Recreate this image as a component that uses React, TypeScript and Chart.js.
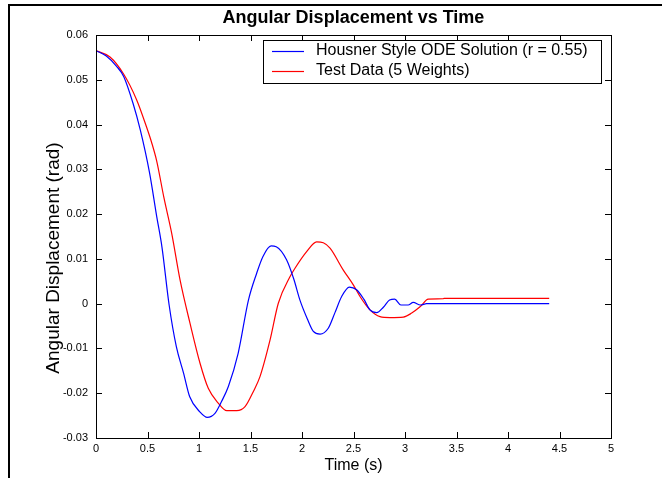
import React, { useEffect, useRef } from "react";
import { Chart, registerables } from "chart.js";

Chart.register(...registerables);

const chartTitle = "Angular Displacement vs Time";
const xAxisTitle = "Time (s)";
const yAxisTitle = "Angular Displacement (rad)";
const seriesLabels = ["Housner Style ODE Solution (r = 0.55)", "Test Data (5 Weights)"];
const seriesColors = ["#0000ff", "#ff0000"];

const blueTime = [0, 0.1, 0.2, 0.27, 0.36, 0.43, 0.52, 0.59, 0.64, 0.71, 0.78, 0.85, 0.91, 1.01, 1.08, 1.155, 1.22, 1.285, 1.38, 1.48, 1.56, 1.62, 1.7, 1.75, 1.85, 1.92, 1.98, 2.05, 2.11, 2.175, 2.255, 2.32, 2.385, 2.46, 2.53, 2.6, 2.66, 2.725, 2.79, 2.85, 2.9, 2.96, 3.03, 3.08, 3.15, 3.21, 4.4];
const blueValue = [0.0565, 0.0553, 0.053, 0.0507, 0.0447, 0.0388, 0.0292, 0.0194, 0.0127, -0.0003, -0.0096, -0.0155, -0.0208, -0.0242, -0.0254, -0.0245, -0.0218, -0.0185, -0.0111, 0.0008, 0.0068, 0.0105, 0.0129, 0.0127, 0.0098, 0.0055, 0.0008, -0.0033, -0.0062, -0.0068, -0.0055, -0.002, 0.0016, 0.0037, 0.0031, 0.001, -0.0014, -0.002, -0.0008, 0.0008, 0.001, -0.0003, -0.0003, 0.0003, -0.0003, 0, 0];

const redTime = [0, 0.136, 0.265, 0.395, 0.49, 0.54, 0.59, 0.66, 0.735, 0.816, 0.913, 1.01, 1.09, 1.187, 1.27, 1.366, 1.447, 1.528, 1.592, 1.69, 1.77, 1.883, 1.932, 2.045, 2.142, 2.207, 2.272, 2.401, 2.498, 2.563, 2.66, 2.757, 2.854, 2.984, 3.065, 3.146, 3.226, 3.37, 3.38, 4.4];
const redValue = [0.0565, 0.0551, 0.0514, 0.0455, 0.0395, 0.036, 0.0318, 0.0236, 0.0157, 0.0053, -0.0044, -0.0133, -0.0189, -0.0222, -0.0239, -0.0239, -0.023, -0.0196, -0.0163, -0.0081, 0.0001, 0.006, 0.0079, 0.0116, 0.0138, 0.0136, 0.0124, 0.0075, 0.0042, 0.0016, -0.0014, -0.0029, -0.0031, -0.003, -0.0021, -0.0007, 0.001, 0.0011, 0.0012, 0.0012];

const xTicks = [0, 0.5, 1, 1.5, 2, 2.5, 3, 3.5, 4, 4.5, 5];
const xTickLabels = ["0", "0.5", "1", "1.5", "2", "2.5", "3", "3.5", "4", "4.5", "5"];
const yTicks = [-0.03, -0.02, -0.01, 0, 0.01, 0.02, 0.03, 0.04, 0.05, 0.06];
const yTickLabels = ["-0.03", "-0.02", "-0.01", "0", "0.01", "0.02", "0.03", "0.04", "0.05", "0.06"];

const FONT = "'Liberation Sans', Arial, Helvetica, sans-serif";

function labelFor(ticks: number[], labels: string[], v: number) {
  const i = ticks.findIndex((t) => Math.abs(t - v) < 1e-9);
  return i >= 0 ? labels[i] : "";
}

const decorPlugin = {
  id: "decor",
  beforeDraw(chart: any) {
    const ctx = chart.ctx;
    ctx.save();
    ctx.fillStyle = "#ffffff";
    ctx.fillRect(0, 0, chart.width, chart.height);
    ctx.strokeStyle = "#000000";
    ctx.lineWidth = 2;
    ctx.beginPath();
    ctx.moveTo(9, chart.height);
    ctx.lineTo(9, 5);
    ctx.lineTo(chart.width, 5);
    ctx.stroke();
    ctx.restore();
  },
  afterDatasetsDraw(chart: any) {
    const ctx = chart.ctx;
    const a = chart.chartArea;
    const xs = chart.scales.x;
    const ys = chart.scales.y;
    ctx.save();
    ctx.strokeStyle = "#000000";
    ctx.lineWidth = 1;
    ctx.strokeRect(Math.round(a.left) + 0.5, Math.round(a.top) + 0.5, Math.round(a.right - a.left), Math.round(a.bottom - a.top));
    const tl = 6;
    ctx.beginPath();
    xTicks.forEach((v) => {
      const px = Math.round(xs.getPixelForValue(v)) + 0.5;
      ctx.moveTo(px, a.bottom);
      ctx.lineTo(px, a.bottom - tl);
      ctx.moveTo(px, a.top);
      ctx.lineTo(px, a.top + tl);
    });
    yTicks.forEach((v) => {
      const py = Math.round(ys.getPixelForValue(v)) + 0.5;
      ctx.moveTo(a.left, py);
      ctx.lineTo(a.left + tl, py);
      ctx.moveTo(a.right, py);
      ctx.lineTo(a.right - tl, py);
    });
    ctx.stroke();

    ctx.fillStyle = "#000000";
    ctx.textAlign = "center";
    ctx.textBaseline = "middle";
    ctx.font = `bold 18px ${FONT}`;
    ctx.fillText(chartTitle, (a.left + a.right) / 2, 18);
    ctx.font = `16px ${FONT}`;
    ctx.fillText(xAxisTitle, (a.left + a.right) / 2, 466);
    ctx.save();
    ctx.translate(54, 258);
    ctx.rotate(-Math.PI / 2);
    ctx.font = `19px ${FONT}`;
    ctx.fillText(yAxisTitle, 0, 0);
    ctx.restore();

    const lx = 263, ly = 40, lw = 338, lh = 43;
    ctx.fillStyle = "#ffffff";
    ctx.fillRect(lx, ly, lw, lh);
    ctx.strokeStyle = "#000000";
    ctx.lineWidth = 1;
    ctx.strokeRect(lx + 0.5, ly + 0.5, lw, lh);
    const rows = [51, 71];
    seriesLabels.forEach((label, i) => {
      const y = rows[i];
      ctx.strokeStyle = seriesColors[i];
      ctx.lineWidth = 1.2;
      ctx.beginPath();
      ctx.moveTo(272, y + 0.5);
      ctx.lineTo(304, y + 0.5);
      ctx.stroke();
      ctx.fillStyle = "#000000";
      ctx.textAlign = "left";
      ctx.textBaseline = "middle";
      ctx.font = `16px ${FONT}`;
      ctx.fillText(label, 316, y);
    });
    ctx.restore();
  },
};

export default function App() {
  const ref = useRef<HTMLCanvasElement | null>(null);
  useEffect(() => {
    if (!ref.current) return;
    const chart = new Chart(ref.current, {
      type: "line",
      data: {
        datasets: [
          {
            label: seriesLabels[0],
            data: blueTime.map((t, i) => ({ x: t, y: blueValue[i] })),
            borderColor: seriesColors[0],
            borderWidth: 1.2,
            pointRadius: 0,
            cubicInterpolationMode: "monotone",
            fill: false,
          },
          {
            label: seriesLabels[1],
            data: redTime.map((t, i) => ({ x: t, y: redValue[i] })),
            borderColor: seriesColors[1],
            borderWidth: 1.2,
            pointRadius: 0,
            cubicInterpolationMode: "monotone",
            fill: false,
          },
        ],
      },
      options: {
        responsive: false,
        animation: false,
        devicePixelRatio: 1,
        layout: { padding: { left: 0, right: 51, top: 35, bottom: 0 } },
        plugins: { legend: { display: false }, title: { display: false }, tooltip: { enabled: false } },
        scales: {
          x: {
            type: "linear",
            min: 0,
            max: 5,
            grid: { display: false, drawTicks: false },
            border: { display: false },
            afterBuildTicks: (s: any) => {
              s.ticks = xTicks.map((v) => ({ value: v }));
            },
            afterFit: (s: any) => {
              s.height = 40;
            },
            ticks: {
              autoSkip: false,
              maxRotation: 0,
              padding: 4,
              color: "#000000",
              font: { family: FONT, size: 11 },
              callback: (v: any) => labelFor(xTicks, xTickLabels, Number(v)),
            },
          },
          y: {
            type: "linear",
            min: -0.03,
            max: 0.06,
            grid: { display: false, drawTicks: false },
            border: { display: false },
            afterBuildTicks: (s: any) => {
              s.ticks = yTicks.map((v) => ({ value: v }));
            },
            afterFit: (s: any) => {
              s.width = 96;
            },
            ticks: {
              autoSkip: false,
              padding: 8,
              color: "#000000",
              font: { family: FONT, size: 11 },
              callback: (v: any) => labelFor(yTicks, yTickLabels, Number(v)),
            },
          },
        },
      },
      plugins: [decorPlugin],
    } as any);
    return () => chart.destroy();
  }, []);
  return (
    <div style={{ position: "absolute", left: 0, top: 0, width: 662, height: 478 }}>
      <canvas ref={ref} width={662} height={478} style={{ display: "block", width: 662, height: 478 }} />
    </div>
  );
}
